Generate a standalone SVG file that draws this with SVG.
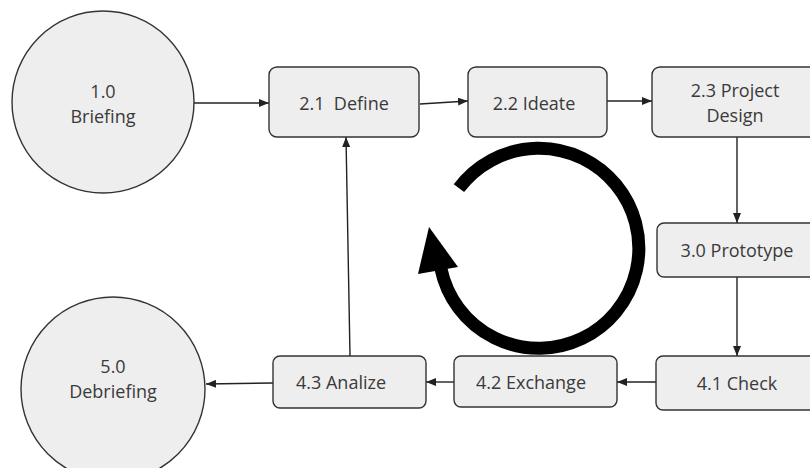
<svg xmlns="http://www.w3.org/2000/svg" width="810" height="468" viewBox="0 0 810 468">
<defs>
<style>
.node{fill:#eeeeee;stroke:#333333;stroke-width:1.4}
.lbl{font-family:"Open Sans","Noto Sans",sans-serif;font-size:18px;fill:#3a3a3a;text-anchor:middle;white-space:pre}
.con{fill:none;stroke:#222222;stroke-width:1.4;marker-end:url(#ah)}
</style>
<marker id="ah" viewBox="0 0 10 8" refX="10" refY="4" markerWidth="10" markerHeight="8" markerUnits="userSpaceOnUse" orient="auto">
<path d="M0,0 L10,4 L0,8 Z" fill="#222222"/>
</marker>
</defs>
<rect width="810" height="468" fill="#ffffff"/>
<g id="cycle">
<path d="M458.9,188.2 A100,100 0 1 1 441,269" fill="none" stroke="#000000" stroke-width="13"/>
<polygon points="429,227 418,274 458,267" fill="#000000"/>
</g>
<g id="connectors">
<line class="con" x1="193" y1="103" x2="269" y2="103"/>
<line class="con" x1="420" y1="104" x2="468" y2="101"/>
<line class="con" x1="607" y1="101" x2="652" y2="101"/>
<line class="con" x1="737" y1="137" x2="737" y2="223"/>
<line class="con" x1="737" y1="277" x2="737" y2="356"/>
<line class="con" x1="656" y1="382" x2="617" y2="382"/>
<line class="con" x1="454" y1="382" x2="426" y2="382"/>
<line class="con" x1="273" y1="383" x2="206" y2="384"/>
<line class="con" x1="350" y1="356" x2="346" y2="137"/>
</g>
<g id="n10">
<circle class="node" cx="103" cy="102" r="91"/>
<text class="lbl" x="103" y="98">1.0</text>
<text class="lbl" x="103" y="123">Briefing</text>
</g>
<g id="n21">
<rect class="node" x="269" y="67" width="150" height="70" rx="8"/>
<text class="lbl" x="344" y="110">2.1  Define</text>
</g>
<g id="n22">
<rect class="node" x="468" y="67" width="139" height="70" rx="8"/>
<text class="lbl" x="534" y="110">2.2 Ideate</text>
</g>
<g id="n23">
<rect class="node" x="652" y="67" width="166" height="70" rx="8"/>
<text class="lbl" x="735" y="97">2.3 Project</text>
<text class="lbl" x="735" y="122">Design</text>
</g>
<g id="n30">
<rect class="node" x="657" y="223" width="161" height="54" rx="7"/>
<text class="lbl" x="737" y="257">3.0 Prototype</text>
</g>
<g id="n41">
<rect class="node" x="656" y="356" width="162" height="54" rx="7"/>
<text class="lbl" x="737" y="390">4.1 Check</text>
</g>
<g id="n42">
<rect class="node" x="454" y="356" width="163" height="51" rx="7"/>
<text class="lbl" x="531" y="389">4.2 Exchange</text>
</g>
<g id="n43">
<rect class="node" x="273" y="356" width="153" height="52" rx="7"/>
<text class="lbl" x="341" y="389">4.3 Analize</text>
</g>
<g id="n50">
<circle class="node" cx="113" cy="389" r="92"/>
<text class="lbl" x="113" y="373">5.0</text>
<text class="lbl" x="113" y="398">Debriefing</text>
</g>
</svg>
